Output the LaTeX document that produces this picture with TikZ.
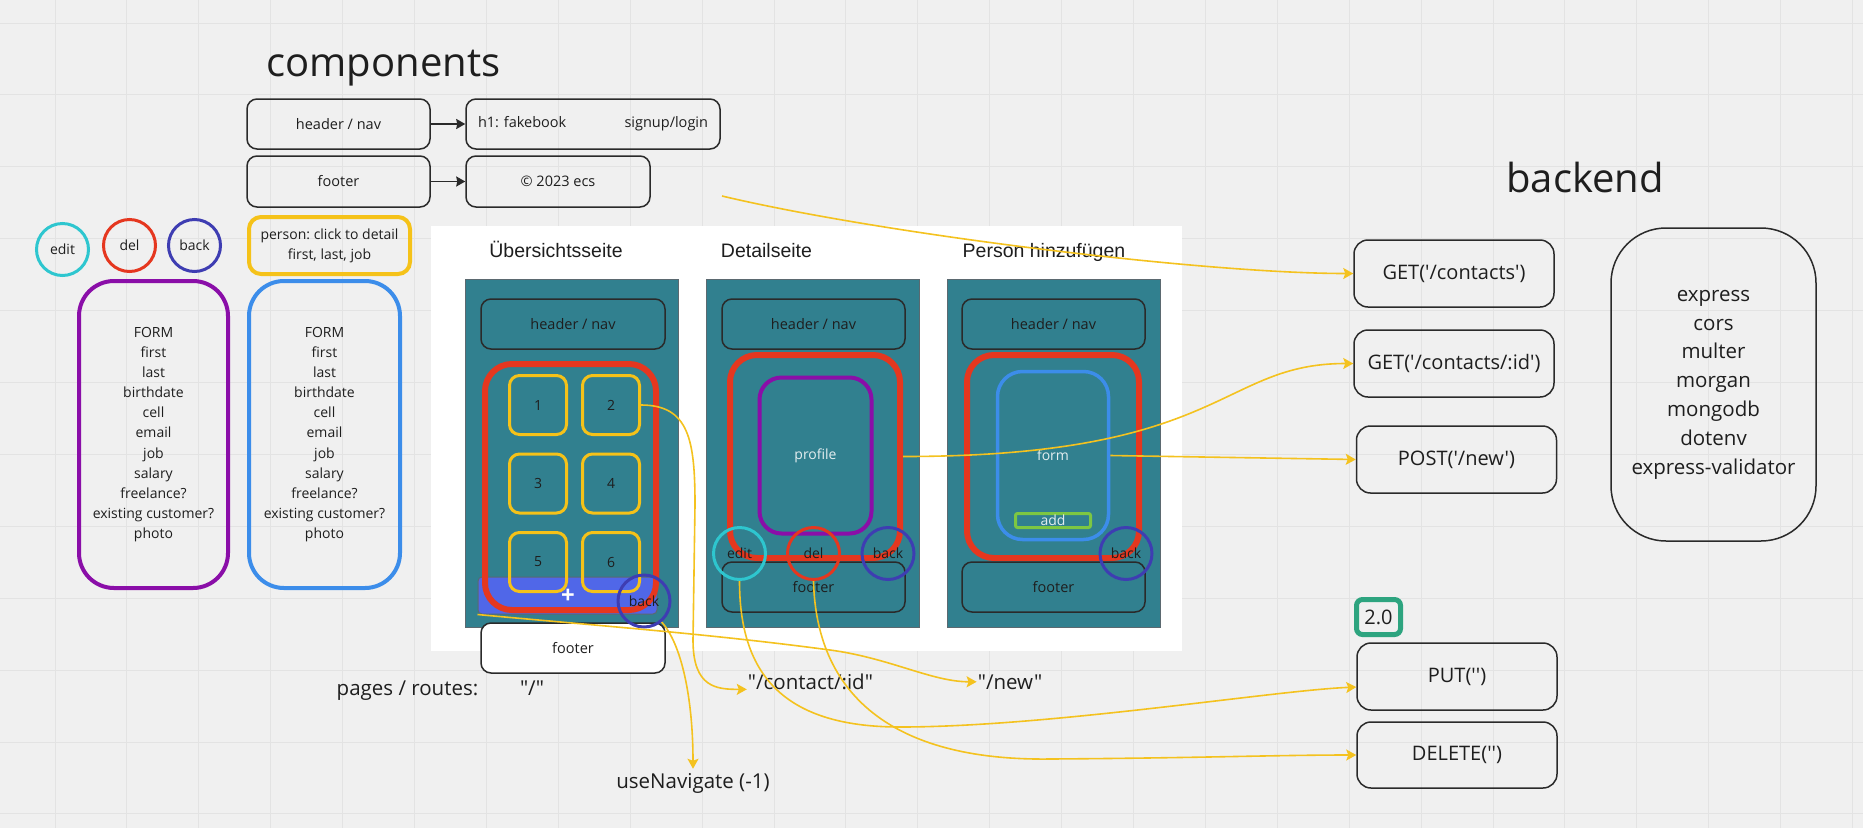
\documentclass[tikz,border=0pt]{standalone}
\usepackage{fontspec}
\setmainfont{Open Sans}[Ligatures=TeXOff]
\newfontfamily\arialfont{Liberation Sans}
\usetikzlibrary{positioning,arrows.meta}
\frenchspacing
\definecolor{cbg}{HTML}{F0F0F0}
\definecolor{cgrid}{HTML}{E3E3E3}
\definecolor{cink}{HTML}{1E1E1E}
\definecolor{cedge}{HTML}{2A2A2A}
\definecolor{cteal}{HTML}{31808F}
\definecolor{cphone}{HTML}{5B6970}
\definecolor{cred}{HTML}{E5371F}
\definecolor{cyel}{HTML}{F5C219}
\definecolor{cpurple}{HTML}{8A0EA8}
\definecolor{cblue}{HTML}{3C8DEA}
\definecolor{ccyan}{HTML}{2EC6CF}
\definecolor{cindigo}{HTML}{3E3DB2}
\definecolor{cbar}{HTML}{5067E8}
\definecolor{cgreen}{HTML}{7DC742}
\definecolor{cver}{HTML}{2DA47F}
\definecolor{clabel}{HTML}{E4EEF0}
\definecolor{cwire}{HTML}{F4C21F}

\begin{document}
\begin{tikzpicture}[x=1pt,y=-1pt,
  every node/.style={text=cink},
  box/.style={draw=cedge,line width=1.5pt,rounded corners=10pt,inner sep=0pt,
    font=\fontsize{14.5}{20}\selectfont},
  apibox/.style={draw=cedge,line width=1.5pt,rounded corners=14pt,inner sep=0pt,
    minimum width=200pt,minimum height=67pt,font=\fontsize{20}{28}\selectfont},
  ring/.style={circle,line width=3pt,inner sep=0pt,minimum size=52pt,
    font=\fontsize{14}{16}\selectfont},
  formbox/.style={line width=4pt,rounded corners=35pt,minimum height=307pt,
    align=center,font=\fontsize{14}{20.1}\selectfont},
  phone/.style={fill=cteal,draw=cphone,line width=1pt,minimum width=213pt,
    minimum height=348pt,inner sep=0pt},
  pagebox/.style={draw=cred,line width=6pt,rounded corners=27pt,inner sep=0pt},
  item/.style={draw=cyel,line width=3pt,rounded corners=10pt,minimum width=57pt,
    minimum height=59pt,inner sep=0pt,font=\fontsize{14}{16}\selectfont},
  inlabel/.style={text=clabel,inner sep=0pt,font=\fontsize{14}{16}\selectfont},
  pagetitle/.style={anchor=base,font=\arialfont\fontsize{19.5}{22}\selectfont},
  route/.style={anchor=base,inner sep=1pt,font=\fontsize{20.5}{24}\selectfont},
  wire/.style={draw=cwire,line width=1.6pt,-{Stealth[length=10pt,width=11pt,inset=2pt]}},
  link/.style={draw=cedge,line width=1.8pt,-{Stealth[length=9pt,width=10pt,inset=1pt]}}]
  % board and grid
  \fill[cbg] (0,0) rectangle (1863,828);
  \useasboundingbox (0,0) rectangle (1863,828);
  \foreach \gx in {0,...,25}
    \draw[cgrid,line width=1pt] ({55+71.9*\gx},0) -- ({55+71.9*\gx},828);
  \foreach \gy in {0,...,11}
    \draw[cgrid,line width=1pt] (0,{23+71.9*\gy}) -- (1863,{23+71.9*\gy});

  % components
  \node[anchor=base,font=\fontsize{40}{48}\selectfont] (comptitle) at (383.5,76) {components};
  \node[box,minimum width=183pt,minimum height=50pt] (cmphead) at (338.5,124) {header / nav};
  \node[box,minimum width=254pt,minimum height=50pt,text width=230pt,align=left] (cmpnav) at (593,124) {h1: fakebook\hfill signup/login};
  \node[box,minimum width=183pt,minimum height=51pt] (cmpfoot) at (338.5,181.5) {footer};
  \node[box,minimum width=184pt,minimum height=51pt] (cmpcopy) at (558,181.5) {© 2023 ecs};
  \draw[link] (cmphead) -- (cmpnav);
  \draw[link] (cmpfoot) -- (cmpcopy);

  \node[ring,draw=ccyan] (legedit) at (62.5,249.5) {edit};
  \node[ring,draw=cred] (legdel) at (129.5,245.5) {del};
  \node[ring,draw=cindigo] (legback) at (194.5,245.5) {back};
  \node[draw=cyel,line width=4pt,rounded corners=12pt,minimum width=161pt,minimum height=57pt,
    inner sep=0pt,align=center,font=\fontsize{14}{20}\selectfont] (person) at (329.5,245.5)
    {person: click to detail\\first, last, job};
  \node[formbox,draw=cpurple,minimum width=149pt] (editform) at (153.5,434.5)
    {FORM\\first\\last\\birthdate\\cell\\email\\job\\salary\\freelance?\\existing customer?\\photo};
  \node[formbox,draw=cblue,minimum width=151pt] (newform) at (324.5,434.5)
    {FORM\\first\\last\\birthdate\\cell\\email\\job\\salary\\freelance?\\existing customer?\\photo};

  % pages
  \node[fill=white,minimum width=751pt,minimum height=425pt,inner sep=0pt] (board) at (806.5,438.5) {};
  \node[pagetitle] (title1) at (556,257) {Übersichtsseite};
  \node[pagetitle] (title2) at (766.5,257) {Detailseite};
  \node[pagetitle] (title3) at (1044,257) {Person hinzufügen};

  \node[phone] (ph1) at (571.5,453) {};
  \node[box,minimum width=184pt,minimum height=50pt] (ph1head) at (573,324) {header / nav};
  \node[draw=cphone,line width=1pt,fill=cbar,rounded corners=4pt,minimum width=179pt,
    minimum height=37pt,inner sep=0pt] (addbar) at (567.5,595.5) {};
  \node[pagebox,minimum width=171pt,minimum height=246pt] (ph1main) at (570.5,487) {};
  \foreach \num/\ix/\iy in {1/538/405,2/611/405,3/538/483.5,4/611/483.5,5/538/562,6/611/562}
    \node[item] (it\num) at (\ix,\iy) {\num};
  \node[text=white,inner sep=0pt,font=\bfseries\fontsize{24}{24}\selectfont] (addplus) at (568,596) {+};
  \node[box,fill=white,minimum width=184pt,minimum height=50pt] (ph1foot) at (573,648) {footer};
  \node[ring,draw=cindigo] (ph1back) at (644,601) {back};

  \node[phone,right=27pt of ph1] (ph2) {};
  \node[box,minimum width=183pt,minimum height=50pt] (ph2head) at (813.5,324) {header / nav};
  \node[pagebox,minimum width=170pt,minimum height=203pt] (ph2main) at (815,456.5) {};
  \node[inlabel,draw=cpurple,line width=4pt,rounded corners=22pt,minimum width=112pt,
    minimum height=156pt] (profile) at (815.5,455.5) {profile};
  \node[box,minimum width=183pt,minimum height=50pt] (ph2foot) at (813.5,587) {footer};
  \node[ring,draw=ccyan] (ph2edit) at (739.5,553.5) {edit};
  \node[ring,draw=cred] (ph2del) at (813.5,553.5) {del};
  \node[ring,draw=cindigo] (ph2back) at (888,553.5) {back};

  \node[phone,right=27pt of ph2] (ph3) {};
  \node[box,minimum width=183pt,minimum height=50pt] (ph3head) at (1053.5,324) {header / nav};
  \node[pagebox,minimum width=172pt,minimum height=203pt] (ph3main) at (1053,456.5) {};
  \node[inlabel,draw=cblue,line width=3.5pt,rounded corners=25pt,minimum width=111pt,
    minimum height=168pt] (ph3form) at (1053,455.5) {form};
  \node[inlabel,draw=cgreen,line width=3pt,rounded corners=2pt,minimum width=75pt,
    minimum height=14pt] (addbtn) at (1053,520.5) {add};
  \node[box,minimum width=183pt,minimum height=50pt] (ph3foot) at (1053.5,587) {footer};
  \node[ring,draw=cindigo] (ph3back) at (1126,553.5) {back};

  % backend
  \node[anchor=base,font=\fontsize{40}{48}\selectfont] (betitle) at (1585,192) {backend};
  \node[apibox] (getall) at (1454,273.5) {GET('/contacts')};
  \node[apibox,below=21.5pt of getall] (getone) {GET('/contacts/:id')};
  \node[apibox] (postnew) at (1456.5,459.5) {POST('/new')};
  \node[draw=cedge,line width=1.5pt,rounded corners=55pt,minimum width=205pt,minimum height=313pt,
    align=center,font=\fontsize{20.5}{28.8}\selectfont] (libs) at (1713.5,384.5)
    {express\\cors\\multer\\morgan\\mongodb\\dotenv\\express-validator};
  \node[draw=cver,line width=5pt,rounded corners=6pt,minimum width=44pt,minimum height=35pt,
    inner sep=0pt,font=\fontsize{20}{24}\selectfont] (ver) at (1378.5,617) {2.0};
  \node[apibox] (putreq) at (1457,676.5) {PUT('')};
  \node[apibox,minimum height=66pt] (delreq) at (1457,755) {DELETE('')};

  % routes
  \node[route] (pagelbl) at (407.5,695) {pages / routes:};
  \node[route] (rootroute) at (532,695) {"/"};
  \node[route] (croute) at (810.5,689) {"/contact/:id"};
  \node[route] (nroute) at (1010,689) {"/new"};
  \node[route,inner sep=4pt] (usenav) at (693,788) {useNavigate (-1)};

  % connectors
  \coordinate (cstart) at (722,196);
  \draw[wire] (cstart) .. controls +(160,38) and +(-150,0) .. (getall.west);
  \draw[wire] (ph2main.east) .. controls +(323,0) and +(-134,0) .. (getone.west);
  \draw[wire] (ph3form.east) -- (postnew.west);
  \draw[wire] (it2.east) .. controls +(48,0) and +(0,-65) .. (695,505) -- (693,640)
    .. controls +(0,48) and +(-30,0) .. ([yshift=-8pt]croute.west);
  \draw[wire] (ph1back.-50) .. controls +(20,22) and +(0,-70) .. (usenav.north);
  \draw[wire] (addbar.south west) .. controls +(130,12) and +(-120,-16) .. (830,650)
    .. controls +(60,8) and +(-45,0) .. (nroute.west);
  \draw[wire] (ph2edit.south) .. controls +(0,90) and +(-120,0) .. (900,727)
    .. controls +(150,0) and +(-80,3) .. (putreq.186);
  \draw[wire] (ph2del.south) .. controls +(3,120) and +(-150,2) .. (1050,759)
    .. controls +(150,-1) and +(-80,0) .. (delreq.west);
\end{tikzpicture}
\end{document}
